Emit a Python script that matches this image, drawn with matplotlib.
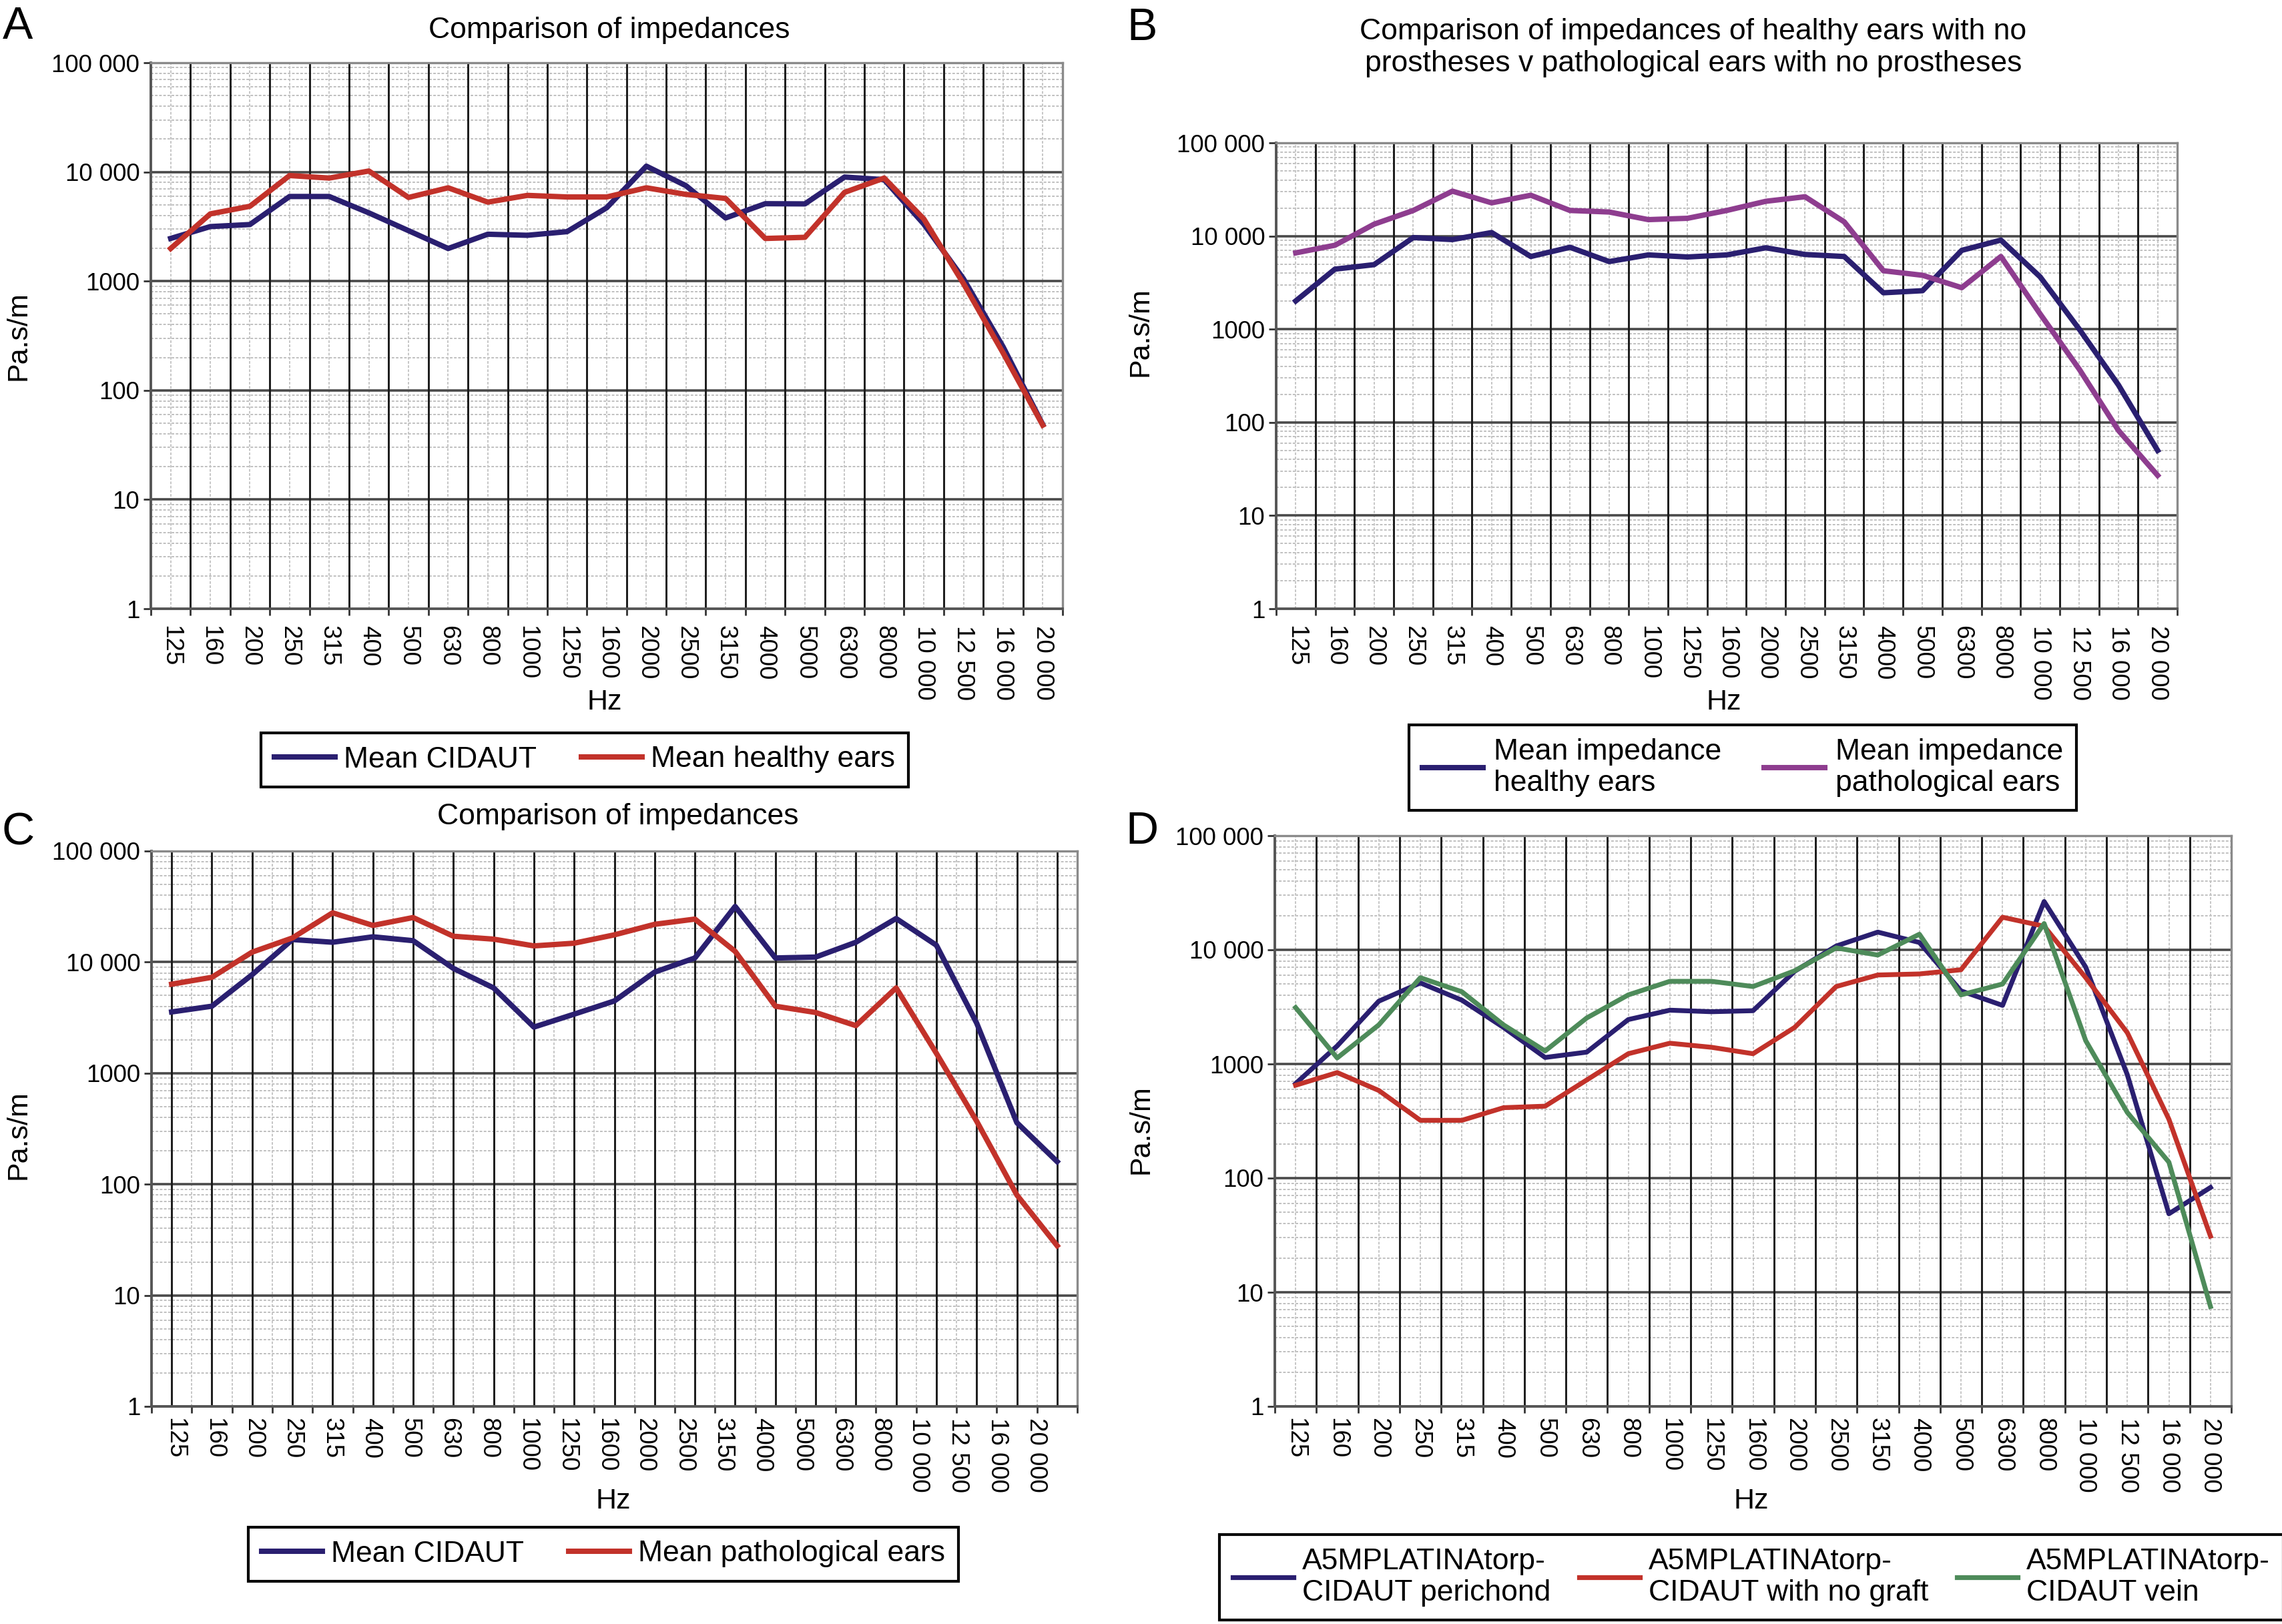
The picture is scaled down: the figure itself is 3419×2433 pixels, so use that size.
import matplotlib
matplotlib.use('Agg')
import matplotlib.pyplot as plt
import numpy as np
from matplotlib.ticker import FixedLocator, FixedFormatter, NullLocator, NullFormatter

plt.rcParams['font.family'] = ['Liberation Sans', 'DejaVu Sans']

W, H = 3419, 2433

# ---------------- data ----------------
freq_labels = ['125', '160', '200', '250', '315', '400', '500', '630', '800', '1000',
               '1250', '1600', '2000', '2500', '3150', '4000', '5000', '6300', '8000',
               '10 000', '12 500', '16 000', '20 000']
y_tick_values = [1, 10, 100, 1000, 10000, 100000]
y_tick_labels = ['1', '10', '100', '1000', '10 000', '100 000']

a_cidaut = [2460, 3160, 3300, 5960, 5960, 4220, 2900, 1990, 2690, 2630, 2840, 4700,
            11300, 7480, 3790, 5120, 5100, 8980, 8500, 3330, 1050, 250, 48.6]
a_healthy = [1990, 4130, 4850, 9270, 8790, 10200, 5840, 7160, 5290, 6100, 5900, 5900,
             7160, 6230, 5720, 2460, 2520, 6500, 8790, 3710, 950, 220, 48]

b_healthy = [2010, 4410, 4930, 9630, 9160, 10900, 6030, 7570, 5320, 6270, 5960, 6270,
             7480, 6340, 6030, 2460, 2590, 7020, 9040, 3650, 1000, 252, 50]
b_patho = [6590, 7960, 13400, 18800, 30300, 22700, 27400, 18800, 18100, 15000, 15500,
           18800, 23600, 26400, 14200, 4240, 3790, 2790, 6030, 1460, 372, 82, 27]

c_cidaut = [3560, 4010, 7710, 15970, 15100, 16900, 15600, 8780, 5860, 2600, 3400, 4470,
            8130, 10900, 31700, 10900, 11100, 15100, 24700, 14200, 2830, 358, 160]
c_patho = [6330, 7300, 12300, 16500, 27800, 21400, 25200, 17100, 16100, 14000, 14800,
           17600, 21900, 24400, 12500, 4010, 3520, 2680, 5860, 1510, 370, 80, 28]

d_perichond = [673, 1440, 3550, 5130, 3620, 2090, 1140, 1270, 2450, 2960, 2870, 2930,
               6490, 10800, 14300, 11600, 4370, 3260, 26500, 7050, 805, 48.7, 82.8]
d_nograft = [651, 841, 586, 321, 321, 414, 427, 724, 1230, 1520, 1400, 1230, 2090,
             4770, 6020, 6150, 6690, 19300, 16100, 5700, 1880, 328, 31]
d_vein = [3120, 1130, 2200, 5700, 4290, 2200, 1300, 2530, 4030, 5300, 5300, 4770, 6550,
          10400, 9000, 13700, 4030, 5020, 17000, 1600, 376, 138, 7.5]

# ---------------- style ----------------
NAVY = '#2A1F70'
RED = '#C2322A'
PURPLE = '#8E3D8F'
GREEN = '#4E8B5A'

XTICK_FS = 26.5
YTICK_FS = 26.5
LAB_FS = 31
TITLE_FS = 32
LEG_FS = 32

fig = plt.figure(figsize=(W / 100, H / 100), dpi=100)


def make_ax(l, r, t, b):
    ax = fig.add_axes([l / W, 1 - b / H, (r - l) / W, (b - t) / H])
    ax._box = (l, r, t, b)
    return ax


def to_axes(ax, x, y):
    l, r, t, b = ax._box
    return (x - l) / (r - l), (b - y) / (b - t)


def setup(ax, centers_dark=False, label_pos=None, label_pad=18):
    n = len(freq_labels)
    ax.set_yscale('log')
    ax.set_ylim(1, 1e5)
    ax.set_xlim(-0.5, n - 0.5)
    bounds = np.arange(n + 1) - 0.5
    centers = np.arange(n)
    if label_pos is None:
        label_pos = centers
    # minor horizontal dotted grid
    for dec in [1, 10, 100, 1000, 10000]:
        for k in range(2, 10):
            ax.axhline(dec * k, color='#c0c0c0', lw=1.4, ls=(0, (2, 1.2)), zorder=0.5)
    dark = centers if centers_dark else bounds[1:-1]
    light = bounds[1:-1] if centers_dark else centers
    for x in light:
        ax.axvline(x, color='#c6c6c6', lw=1.4, ls=(0, (2, 1.2)), zorder=0.6)
    for v in y_tick_values[1:-1]:
        ax.axhline(v, color='#4a4a4a', lw=2.6, zorder=0.8)
    for x in dark:
        ax.axvline(x, color='#1a1a1a', lw=2.1, zorder=0.9)

    ax.xaxis.set_major_locator(FixedLocator(bounds))
    ax.xaxis.set_major_formatter(NullFormatter())
    ax.xaxis.set_minor_locator(FixedLocator(label_pos))
    ax.xaxis.set_minor_formatter(FixedFormatter(freq_labels))
    ax.tick_params(axis='x', which='major', length=7, width=2, color='#333333', direction='out')
    ax.tick_params(axis='x', which='minor', length=0, pad=label_pad, labelsize=XTICK_FS,
                   labelrotation=-90)
    ax.yaxis.set_major_locator(FixedLocator(y_tick_values))
    ax.yaxis.set_major_formatter(FixedFormatter(y_tick_labels))
    ax.yaxis.set_minor_locator(NullLocator())
    ax.tick_params(axis='y', which='major', length=8, width=2, color='#333333',
                   direction='out', pad=4, labelsize=YTICK_FS)
    for s in ['top', 'right']:
        ax.spines[s].set_color('#8a8a8a')
        ax.spines[s].set_linewidth(2.4)
    for s in ['left', 'bottom']:
        ax.spines[s].set_color('#555555')
        ax.spines[s].set_linewidth(2.8)


def labels(ax, hz_xy, y_xy):
    ax.set_xlabel('Hz', fontsize=LAB_FS)
    ax.xaxis.label.set_va('center')
    ax.xaxis.set_label_coords(*to_axes(ax, *hz_xy))
    ax.set_ylabel('Pa.s/m', fontsize=LAB_FS)
    ax.yaxis.label.set_va('center')
    ax.yaxis.set_label_coords(*to_axes(ax, *y_xy))


def title(ax, text, xy, ls=1.2):
    fx, fy = to_axes(ax, *xy)
    ax.set_title(text, fontsize=TITLE_FS, x=fx, y=fy, va='center', linespacing=ls)


def legend(handles, texts, cx, cy, ncol, **kw):
    opts = dict(loc='center', bbox_to_anchor=(cx / W, 1 - cy / H), ncol=ncol,
                fontsize=LEG_FS, frameon=True, fancybox=False, edgecolor='black',
                handlelength=2.05, handletextpad=0.3, columnspacing=1.5,
                borderpad=0.45, borderaxespad=0, framealpha=1)
    opts.update(kw)
    leg = fig.legend(handles, texts, **opts)
    leg.get_frame().set_linewidth(3)
    return leg


x = np.arange(len(freq_labels))
LW = 5.8

# ---------------- Panel A ----------------
axA = make_ax(226, 1592, 94, 912)
setup(axA, label_pad=18)
lA1, = axA.plot(x, a_cidaut, color=NAVY, lw=LW, zorder=3)
lA2, = axA.plot(x, a_healthy, color=RED, lw=LW, zorder=3)
labels(axA, (906, 1052), (27, 503))
title(axA, 'Comparison of impedances', (913, 54))
legend([lA1, lA2], ['Mean CIDAUT', 'Mean healthy ears'], 876, 1138, 2)

# ---------------- Panel B ----------------
axB = make_ax(1912, 3262, 214, 912)
setup(axB, label_pad=18)
lB1, = axB.plot(x, b_healthy, color=NAVY, lw=LW, zorder=3)
lB2, = axB.plot(x, b_patho, color=PURPLE, lw=LW, zorder=3)
labels(axB, (2583, 1052), (1709, 497))
title(axB, 'Comparison of impedances of healthy ears with no\n'
           'prostheses v pathological ears with no prostheses', (2537, 80), ls=1.2)
legend([lB1, lB2], ['Mean impedance\nhealthy ears', 'Mean impedance\npathological ears'],
       2611, 1150, 2, handletextpad=0.35, columnspacing=1.45)

# ---------------- Panel C ----------------
axC = make_ax(227, 1614, 1275, 2107)
c_label_pos = 0.08 + 0.973 * x
setup(axC, centers_dark=True, label_pos=c_label_pos, label_pad=12)
lC1, = axC.plot(x, c_cidaut, color=NAVY, lw=LW, zorder=3)
lC2, = axC.plot(x, c_patho, color=RED, lw=LW, zorder=3)
labels(axC, (919, 2249), (27, 1700))
title(axC, 'Comparison of impedances', (926, 1232))
legend([lC1, lC2], ['Mean CIDAUT', 'Mean pathological ears'], 904, 2328, 2)

# ---------------- Panel D ----------------
axD = make_ax(1910, 3343, 1252, 2107)
setup(axD, label_pad=12)
LWD = 5.2
lD1, = axD.plot(x, d_perichond, color=NAVY, lw=LWD, zorder=3)
lD2, = axD.plot(x, d_nograft, color=RED, lw=LWD, zorder=3)
lD3, = axD.plot(x, d_vein, color=GREEN, lw=LWD, zorder=3)
labels(axD, (2624, 2249), (1709, 1692))
legend([lD1, lD2, lD3],
       ['A5MPLATINAtorp-\nCIDAUT perichond', 'A5MPLATINAtorp-\nCIDAUT with no graft',
        'A5MPLATINAtorp-\nCIDAUT vein'],
       2624, 2363, 3, columnspacing=0.95, handletextpad=0.3)

# ---------------- panel letters ----------------
for letter, (lx, ly) in {'A': (27, 40), 'B': (1711, 42), 'C': (27, 1247),
                         'D': (1711, 1246)}.items():
    fig.text(lx / W, 1 - ly / H, letter, fontsize=49, ha='center', va='center')

fig.savefig('out.png', dpi=100)
